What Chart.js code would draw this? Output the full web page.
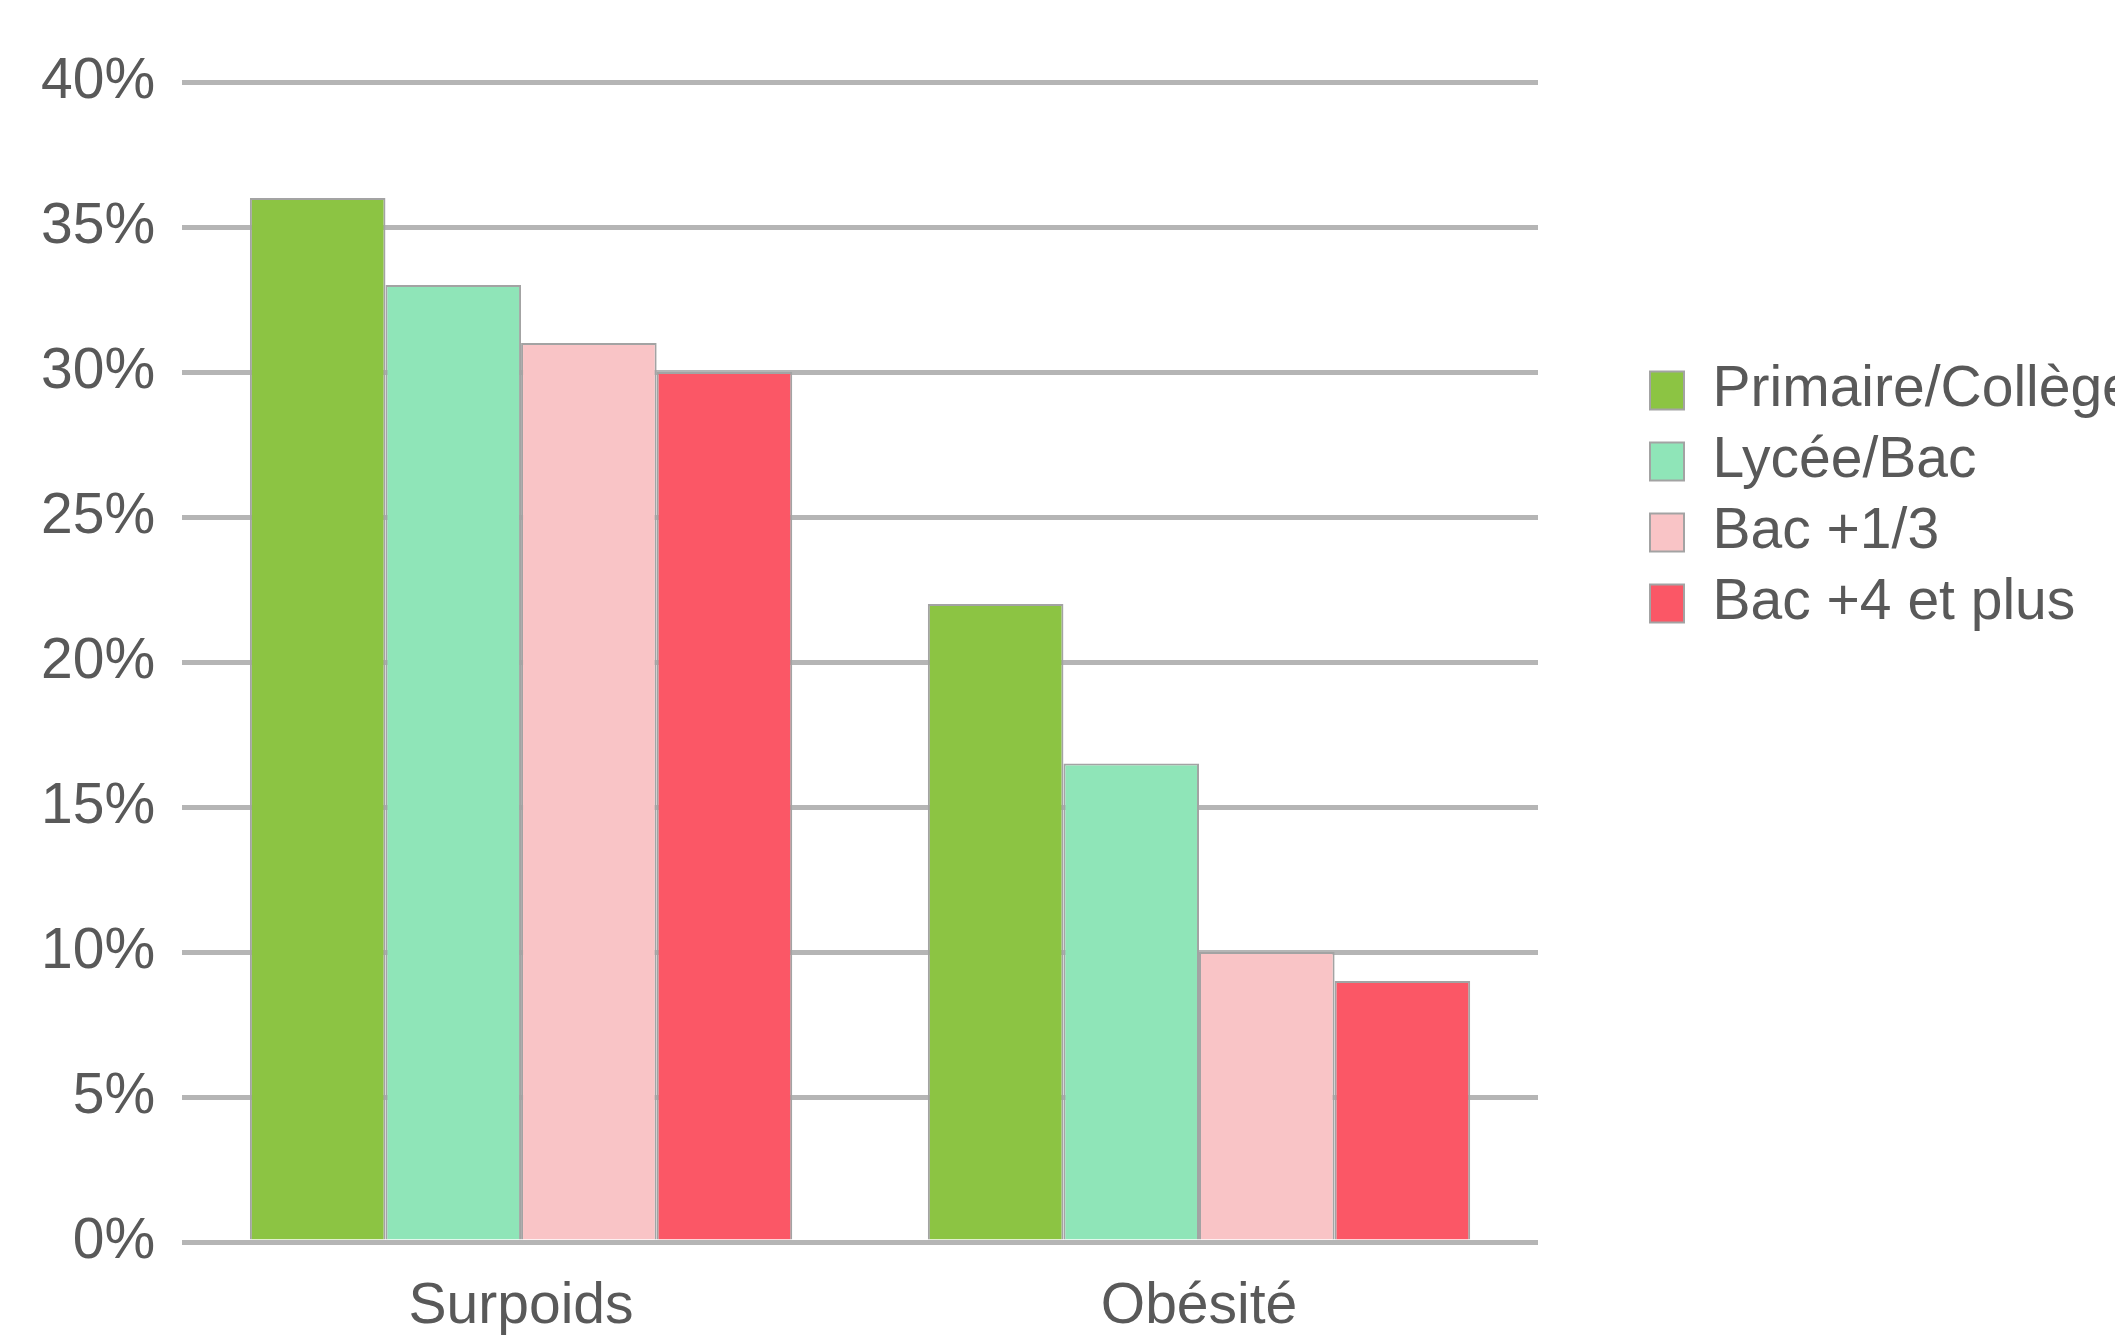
<!DOCTYPE html>
<html>
<head>
<meta charset="utf-8">
<script src="https://cdn.jsdelivr.net/npm/chart.js@4.4.1/dist/chart.umd.min.js"></script>
<style>
  html, body { margin: 0; padding: 0; background: #fff; }
  #wrap { width: 2115px; height: 1340px; position: relative; }
</style>
</head>
<body>
<div id="wrap"><canvas id="chart"></canvas></div>
<script>
const categories = ['Surpoids', 'Obésité'];
const seriesNames = ['Primaire/Collège', 'Lycée/Bac', 'Bac +1/3', 'Bac +4 et plus'];
const primaireCollege = [36, 22];
const lyceeBac = [33, 16.5];
const bac13 = [31, 10];
const bac4Plus = [30, 9];
const yTicks = [0, 5, 10, 15, 20, 25, 30, 35, 40];

const colors = ['#8cc443', '#8fe5b8', '#f9c4c6', '#fb5766'];
const textColor = '#595959';
const fontFamily = '"Liberation Sans", Arial, sans-serif';

const values = [primaireCollege, lyceeBac, bac13, bac4Plus];

const ctx = document.getElementById('chart');
new Chart(ctx, {
    type: 'bar',
    data: {
        labels: categories,
        datasets: seriesNames.map((name, i) => ({
            label: name,
            data: values[i],
            backgroundColor: colors[i],
            borderColor: '#a3a3a3',
            borderWidth: 2,
            barPercentage: 1.0,
            categoryPercentage: 0.8
        }))
    },
    options: {
        responsive: true,
        maintainAspectRatio: false,
        animation: false,
        layout: {
            padding: { top: 82, left: 14, right: 0, bottom: 0 }
        },
        scales: {
            x: {
                // tick marks hidden, their length only pushes the labels down
                grid: { display: false, drawTicks: true, tickLength: 33 },
                border: { display: false },
                ticks: {
                    color: textColor,
                    padding: 4,
                    font: { family: fontFamily, size: 57, lineHeight: 1.0 }
                }
            },
            y: {
                min: 0,
                max: 40,
                afterBuildTicks: (scale) => {
                    scale.ticks = yTicks.map(v => ({ value: v }));
                },
                grid: { color: '#b5b5b5', lineWidth: 5, drawTicks: false },
                border: { display: false },
                ticks: {
                    color: textColor,
                    padding: 27,
                    font: { family: fontFamily, size: 57, lineHeight: 1.15 },
                    callback: (v) => v + '%'
                }
            },
            // empty axis only to leave the gap between plot and legend
            gap: {
                type: 'linear',
                position: 'right',
                display: true,
                grid: { display: false },
                border: { display: false },
                ticks: { display: false },
                afterFit: (scale) => { scale.width = 98; }
            }
        },
        plugins: {
            tooltip: { enabled: false },
            legend: {
                position: 'right',
                align: 'start',
                maxWidth: 479,
                title: {
                    display: true,
                    text: '',
                    font: { size: 10 },
                    padding: { top: 254, bottom: 0 }
                },
                labels: {
                    color: textColor,
                    boxWidth: 34,
                    boxHeight: 38,
                    padding: 14,
                    font: { family: fontFamily, size: 57 }
                }
            }
        }
    }
});
</script>
</body>
</html>
